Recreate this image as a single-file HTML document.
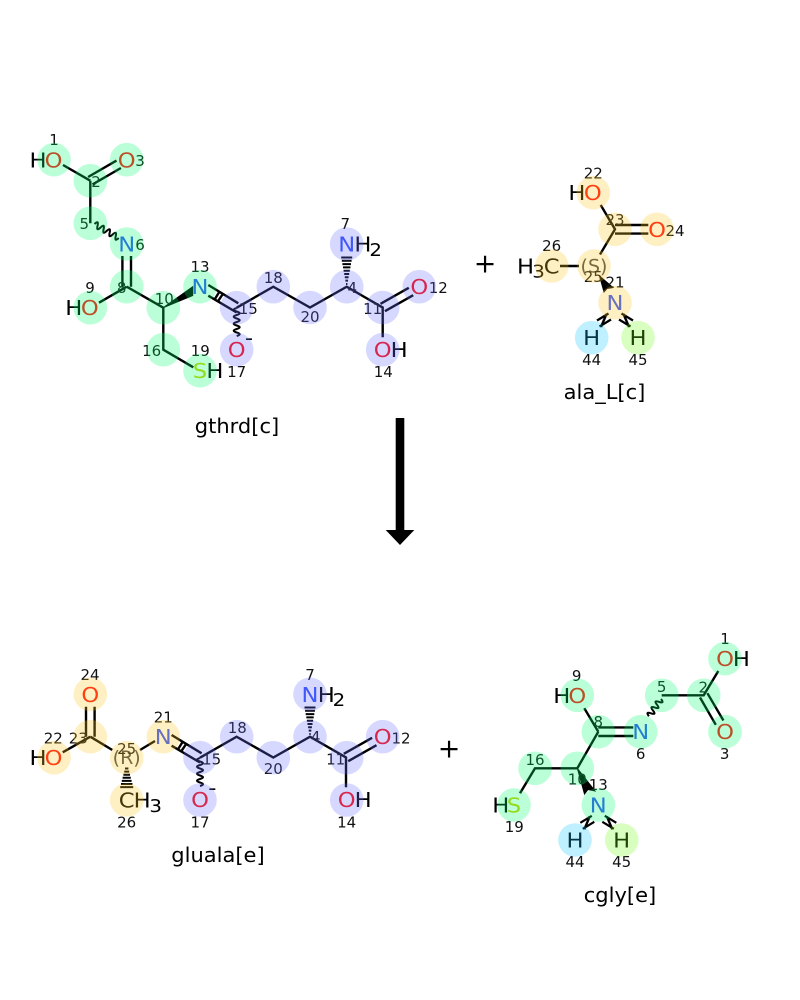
<!DOCTYPE html>
<html><head><meta charset="utf-8"><style>
html,body{margin:0;padding:0;background:#fff}
svg{display:block}
text{font-family:"DejaVu Sans",sans-serif}
.a,.s,.e,.ss,.se,.l{transform-box:fill-box}
.a{font-size:20.6px;text-anchor:middle;transform-origin:center;transform:scaleX(1.1)}
.s{font-size:20.6px;text-anchor:start;transform-origin:left center;transform:scaleX(1.1)}
.e{font-size:20.6px;text-anchor:end;transform-origin:right center;transform:scaleX(1.1)}
.ss{font-size:18px;text-anchor:start;transform-origin:left center;transform:scaleX(1.1)}
.se{font-size:18px;text-anchor:end;transform-origin:right center;transform:scaleX(1.1)}
.st{font-size:19px;text-anchor:middle;fill:#484848}
.n{font-size:15px;text-anchor:middle;fill:#111}
.l{font-size:20.6px;text-anchor:middle;transform-origin:center;transform:scaleX(1.02)}
.O{fill:#ff0d0d}.N{fill:#3050f8}.S{fill:#cccc00}
.b{stroke:#000;stroke-width:2.4;fill:none;stroke-linecap:butt}
.b .w{stroke-width:2}
.b .t{stroke-width:2.2}
.h{stroke:#000;stroke-width:2;fill:none}
.G circle{fill:rgb(4,255,110)}.L circle{fill:rgb(107,111,255)}.Y circle{fill:rgb(255,200,33)}
.ov circle{opacity:.27}
</style></head><body>
<svg width="800" height="1000" viewBox="0 0 800 1000" xmlns="http://www.w3.org/2000/svg">
<rect width="800" height="1000" fill="#fff"/>

<!-- gthrd bonds -->
<g class="b">
<path d="M63 165L90.3 180.7M88.1 177L116.5 160.6M92.5 184.4L120.9 168M90.3 180.7V223.3"/>
<path class="w" transform="translate(94.5 224) rotate(30)" d="M0 0q1.75 -6 3.5 0t3.5 0t3.5 0t3.5 0t3.5 0t3.5 0t3.5 0t3.5 0"/>
<path d="M122.4 256V286.7M131 256V286.7M126.7 286.7L99 302.7M126.7 286.7L163.3 307.7V349.7L193.3 367.3"/>
</g>
<polygon points="163.3,307.7 192.7,286.7 192.7,295.5" fill="#000" stroke="#000" stroke-width="1"/>
<g id="r1" class="b">
<path d="M208.3 285L238.3 303.3M208.3 295.7L236.7 312.5M220 290.7L214.3 300M223.3 293.3L217.7 301.7"/>
<path class="w" d="M236.7 308q-6 1.75 0 3.5t0 3.5t0 3.5t0 3.5t0 3.5t0 3.5t0 3.5t0 3.5"/>
<path d="M236.7 307.7L273.3 286.7L310 307.5L346.7 286.7L382.7 307.5V337.3"/>
<path d="M380.5 303.8L408.8 287.8M384.9 311.2L413.2 295.2"/>
</g>
<g class="h"><path d="M346 284h1.4M345.4 280.6h2.6M344.8 277.3h3.8M344.2 274h5M343.6 270.7h6.2M343 267.4h7.4M342.4 264.1h8.6M341.8 260.8h9.8M341.2 257.5h11"/></g>

<!-- gthrd labels -->
<text class="e" x="46.5" y="167.3">H</text><text class="a O" x="53.5" y="167.3">O</text>
<text class="a O" x="126.7" y="167.3">O</text>
<text class="a N" x="126.7" y="251.5">N</text>
<text class="e" x="82.3" y="315.2">H</text><text class="a O" x="89.8" y="315.2">O</text>
<text class="a N" x="200" y="294.2">N</text>
<text class="a S" x="200" y="378.2">S</text><text class="s" x="206.4" y="378.2">H</text>
<text class="a O" x="236.7" y="357.2">O</text><text class="a" x="249" y="345">-</text>
<text class="a N" x="346.7" y="251.5">N</text><text class="s" x="354.4" y="251.5">H</text><text class="ss" x="369.4" y="255.8">2</text>
<text class="a O" x="419.3" y="294.2">O</text>
<text class="a O" x="382.7" y="357.2">O</text><text class="s" x="390.6" y="357.2">H</text>
<g>
<text class="n" x="54" y="145">1</text><text class="n" x="96" y="187">2</text><text class="n" x="140" y="166">3</text>
<text class="n" x="84.3" y="229">5</text><text class="n" x="140" y="250">6</text><text class="n" x="121.7" y="293">8</text>
<text class="n" x="90" y="293">9</text><text class="n" x="164.3" y="304">10</text><text class="n" x="200" y="272">13</text>
<text class="n" x="151.7" y="356">16</text><text class="n" x="200.3" y="356">19</text><text class="n" x="236.7" y="377">17</text>
<text class="n" x="248.3" y="314">15</text><text class="n" x="273.3" y="283">18</text><text class="n" x="310" y="322">20</text>
<text class="n" x="352.3" y="293">4</text><text class="n" x="345.3" y="229">7</text><text class="n" x="372.7" y="314">11</text>
<text class="n" x="438.3" y="293">12</text><text class="n" x="383.3" y="377">14</text>
</g>
<g class="ov">
<g class="G">
<circle cx="54" cy="159.7" r="16.8"/><circle cx="90.3" cy="180.7" r="16.8"/><circle cx="126.7" cy="159.7" r="16.8"/>
<circle cx="90.3" cy="223.3" r="16.8"/><circle cx="126.7" cy="244" r="16.8"/><circle cx="126.7" cy="286.7" r="16.8"/>
<circle cx="90.3" cy="307.7" r="16.8"/><circle cx="163.3" cy="307.7" r="16.8"/><circle cx="200" cy="286.7" r="16.8"/>
<circle cx="163.3" cy="349.7" r="16.8"/><circle cx="200" cy="370.7" r="16.8"/>
</g>
<g class="L">
<circle cx="236.7" cy="307.7" r="16.8"/><circle cx="236.7" cy="349.7" r="16.8"/><circle cx="273.3" cy="286.7" r="16.8"/>
<circle cx="310" cy="307.5" r="16.8"/><circle cx="346.7" cy="286.7" r="16.8"/><circle cx="346.7" cy="244" r="16.8"/>
<circle cx="382.7" cy="307.5" r="16.8"/><circle cx="419.3" cy="286.7" r="16.8"/><circle cx="382.7" cy="349.7" r="16.8"/>
</g>
</g>
<text class="l" x="237" y="433">gthrd[c]</text>
<text x="485" y="272.5" style="font-size:27px;text-anchor:middle">+</text>

<!-- ala_L -->
<g class="b">
<path d="M600.7 205L615 229.3L600 254.5M615 225H648.3M615 233.6H648.3M560 266H579"/>
<path d="M606.5 314L601 327"/>
<path class="t" d="M597 320.5L608.5 313.5M599.5 326.5L611 319.5"/>
<path d="M623.5 314L629 327"/>
<path class="t" d="M633 320.5L621.5 313.5M630.5 326.5L619 319.5"/>
</g>
<polygon points="599.5,276 604,292 607,288.5 613,287.5" fill="#000" stroke="#000" stroke-width="1"/>
<text class="e" x="585.4" y="200">H</text><text class="a O" x="592.8" y="200">O</text>
<text class="a O" x="657" y="236.8">O</text>
<text class="a" x="551.7" y="273.5">C</text><text class="se" x="544.8" y="277.7">3</text><text class="e" x="534" y="273.5">H</text>
<text class="st" x="594" y="272.5">(S)</text>
<text class="a N" x="615" y="310">N</text>
<text class="a" x="591.7" y="345.2">H</text><text class="a" x="638" y="345.2">H</text>
<text class="n" x="593.3" y="178.5">22</text><text class="n" x="615" y="225">23</text><text class="n" x="675" y="236">24</text>
<text class="n" x="551.7" y="251">26</text><text class="n" x="593.3" y="282">25</text><text class="n" x="615" y="287.5">21</text>
<text class="n" x="591.7" y="365">44</text><text class="n" x="638" y="365">45</text>
<g class="ov">
<g class="Y">
<circle cx="593.3" cy="192.7" r="16.8"/><circle cx="615" cy="229.3" r="16.8"/><circle cx="657" cy="229.3" r="16.8"/>
<circle cx="594" cy="266" r="16.8"/><circle cx="551.7" cy="266" r="16.8"/><circle cx="615" cy="302.7" r="16.8"/>
</g>
<circle cx="591.7" cy="337.7" r="16.8" fill="rgb(19,200,255)"/><circle cx="638" cy="337.7" r="16.8" fill="rgb(111,255,22)"/>
</g>
<text class="l" x="604.5" y="399">ala_L[c]</text>

<!-- arrow -->
<rect x="395.7" y="418" width="8.6" height="114" fill="#000"/>
<polygon points="385.7,530 414.3,530 400,545" fill="#000"/>

<!-- gluala -->
<g class="b">
<path d="M86 706.7V736.7M94.6 706.7V736.7M90.3 736.7L62.7 752.3M90.3 736.7L112.3 750M140 750L155 741"/>
</g>
<g transform="translate(-36.7 450)">
<g class="b">
<path d="M208.3 285L238.3 303.3M208.3 295.7L236.7 312.5M220 290.7L214.3 300M223.3 293.3L217.7 301.7"/>
<path class="w" d="M236.7 308q-6 1.75 0 3.5t0 3.5t0 3.5t0 3.5t0 3.5t0 3.5t0 3.5t0 3.5"/>
<path d="M236.7 307.7L273.3 286.7L310 307.5L346.7 286.7L382.7 307.5V337.3"/>
<path d="M380.5 303.8L408.8 287.8M384.9 311.2L413.2 295.2"/>
</g>
<g class="h"><path d="M346 284h1.4M345.4 280.6h2.6M344.8 277.3h3.8M344.2 274h5M343.6 270.7h6.2M343 267.4h7.4M342.4 264.1h8.6M341.8 260.8h9.8M341.2 257.5h11"/></g>
</g>
<g class="h"><path d="M125 768.5h3.4M124.2 771.6h5M123.4 774.7h6.6M122.6 777.8h8.2M121.8 780.9h9.8M121 784h11.4M120.2 787.1h13"/></g>
<text class="a O" x="90.3" y="701.8">O</text>
<text class="e" x="46.5" y="765.2">H</text><text class="a O" x="53.5" y="765.2">O</text>
<text class="st" x="126.7" y="764">(R)</text>
<text class="a" x="126.7" y="807.5">C</text><text class="s" x="133.7" y="807.5">H</text><text class="ss" x="149.4" y="811.8">3</text>
<text class="a N" x="163.3" y="744.2">N</text>
<text class="a O" x="200" y="807.2">O</text><text class="a" x="212.3" y="795">-</text>
<text class="a N" x="310" y="701.8">N</text><text class="s" x="317.7" y="701.8">H</text><text class="ss" x="332.7" y="706">2</text>
<text class="a O" x="382.7" y="744.2">O</text>
<text class="a O" x="346.7" y="807.2">O</text><text class="s" x="354.6" y="807.2">H</text>
<text class="n" x="90" y="680">24</text><text class="n" x="53.3" y="743.5">22</text><text class="n" x="78.3" y="743.5">23</text>
<text class="n" x="126.7" y="754">25</text><text class="n" x="163.3" y="722.5">21</text><text class="n" x="211.7" y="764.5">15</text>
<text class="n" x="237.3" y="733">18</text><text class="n" x="126.7" y="827.5">26</text><text class="n" x="200" y="827.5">17</text>
<text class="n" x="273.3" y="774">20</text><text class="n" x="315.7" y="742">4</text><text class="n" x="310" y="680">7</text>
<text class="n" x="335.7" y="764.5">11</text><text class="n" x="401" y="743.5">12</text><text class="n" x="346.7" y="827.5">14</text>
<g class="ov">
<g class="Y">
<circle cx="90.3" cy="694.3" r="16.8"/><circle cx="90.3" cy="736.7" r="16.8"/><circle cx="54" cy="757.7" r="16.8"/>
<circle cx="126.7" cy="757.7" r="16.8"/><circle cx="126.7" cy="800" r="16.8"/><circle cx="163.3" cy="736.7" r="16.8"/>
</g>
<g class="L">
<circle cx="200" cy="757.7" r="16.8"/><circle cx="200" cy="800" r="16.8"/><circle cx="236.7" cy="736.7" r="16.8"/>
<circle cx="273.3" cy="757.7" r="16.8"/><circle cx="310" cy="736.7" r="16.8"/><circle cx="310" cy="694.3" r="16.8"/>
<circle cx="346.7" cy="757.7" r="16.8"/><circle cx="382.7" cy="736.7" r="16.8"/><circle cx="346.7" cy="800" r="16.8"/>
</g>
</g>
<text class="l" x="218" y="862">gluala[e]</text>
<text x="449" y="757.5" style="font-size:27px;text-anchor:middle">+</text>

<!-- cgly -->
<g class="b">
<path d="M718.3 671L703.7 695.3H661.7"/>
<path d="M707.4 693.2L723.4 720.5M700 697.5L715.8 724.8"/>
<path class="w" transform="translate(661 699) rotate(125)" d="M0 0q1.75 -6 3.5 0t3.5 0t3.5 0t3.5 0t3.5 0t3.5 0"/>
<path d="M598.3 727.4H633.3M598.3 736H633.3M598.3 731.7L584.3 708.3M598.3 731.7L577.3 768.3H535L520 793.3"/>
</g>
<polygon points="577.3,768.3 584.5,794 588,789.5 595,791" fill="#000" stroke="#000" stroke-width="1"/>
<g class="b" transform="translate(-16.7 502.3)">
<path d="M606.5 314L601 327"/>
<path class="t" d="M597 320.5L608.5 313.5M599.5 326.5L611 319.5"/>
<path d="M623.5 314L629 327"/>
<path class="t" d="M633 320.5L621.5 313.5M630.5 326.5L619 319.5"/>
</g>
<text class="a O" x="725" y="666.2">O</text><text class="s" x="732.9" y="666.2">H</text>
<text class="a O" x="725" y="739.2">O</text>
<text class="a N" x="640.7" y="739.2">N</text>
<text class="e" x="570.3" y="702.8">H</text><text class="a O" x="577.3" y="702.8">O</text>
<text class="a S" x="514" y="812.5">S</text><text class="e" x="509.3" y="812.5">H</text>
<text class="a N" x="598.3" y="812.5">N</text>
<text class="a" x="575" y="847.5">H</text><text class="a" x="621.7" y="847.5">H</text>
<text class="n" x="725" y="644">1</text><text class="n" x="703.3" y="692.5">2</text><text class="n" x="724.7" y="759">3</text>
<text class="n" x="661.7" y="692">5</text><text class="n" x="640.7" y="759">6</text><text class="n" x="598.3" y="727">8</text>
<text class="n" x="576.7" y="681">9</text><text class="n" x="535" y="765">16</text><text class="n" x="577.3" y="784.5">10</text>
<text class="n" x="598.3" y="790">13</text><text class="n" x="514.3" y="832">19</text>
<text class="n" x="575" y="867">44</text><text class="n" x="621.7" y="867">45</text>
<g class="ov">
<g class="G">
<circle cx="725" cy="658.7" r="16.8"/><circle cx="703.7" cy="695.3" r="16.8"/><circle cx="725" cy="731.7" r="16.8"/>
<circle cx="661.7" cy="695.3" r="16.8"/><circle cx="640.7" cy="731.7" r="16.8"/><circle cx="598.3" cy="731.7" r="16.8"/>
<circle cx="577.3" cy="695.3" r="16.8"/><circle cx="577.3" cy="768.3" r="16.8"/><circle cx="535" cy="768.3" r="16.8"/>
<circle cx="514" cy="805" r="16.8"/><circle cx="598.3" cy="805" r="16.8"/>
</g>
<circle cx="575" cy="840" r="16.8" fill="rgb(19,200,255)"/><circle cx="621.7" cy="840" r="16.8" fill="rgb(111,255,22)"/>
</g>
<text class="l" x="620" y="902">cgly[e]</text>
</svg>
</body></html>
